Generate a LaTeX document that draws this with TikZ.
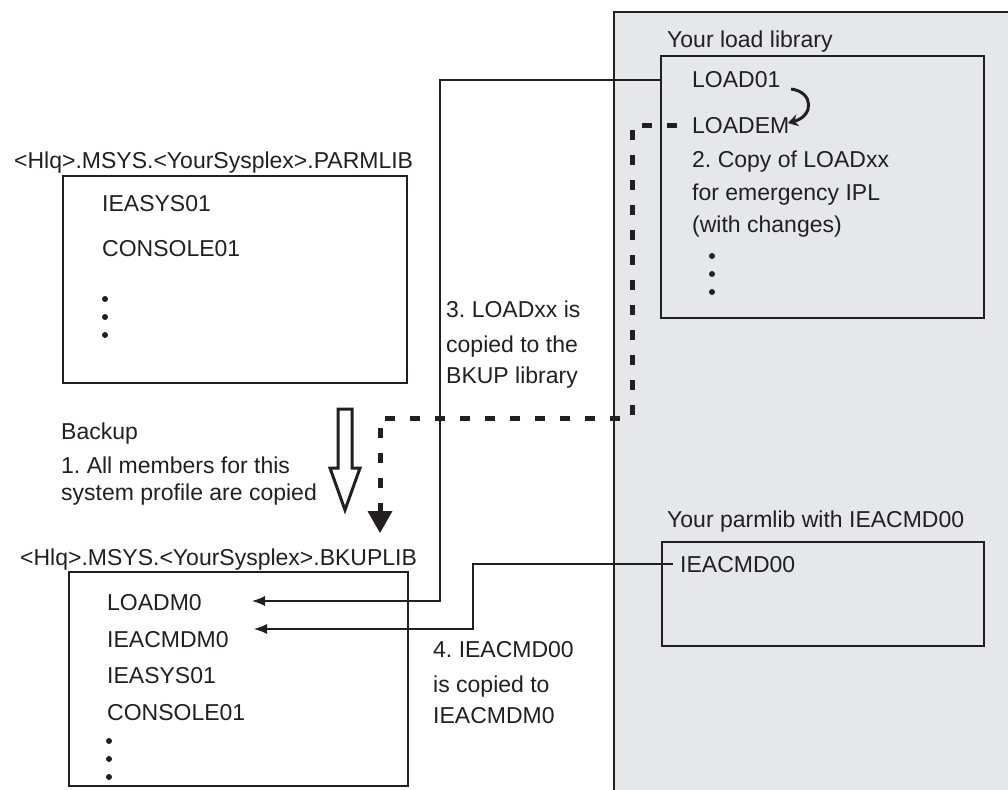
\documentclass[tikz,border=0pt]{standalone}
\usepackage{fontspec}
\setmainfont{Liberation Sans}
\usetikzlibrary{arrows.meta}
\definecolor{panelgray}{HTML}{E6E7E8}
\definecolor{ink}{HTML}{231F20}
\frenchspacing
\begin{document}
\begin{tikzpicture}[x=1pt,y=-1pt,
  txt/.style={anchor=base west,inner sep=0pt,font=\fontsize{23}{28}\selectfont\frenchspacing,text=ink},
  box/.style={draw=ink,line width=1.8pt,rectangle,inner sep=0pt,outer sep=0pt},
  conn/.style={draw=ink,line width=1.3pt},
  tipa/.style={-{Latex[length=13pt,width=10pt]}},
  bigdash/.style={draw=ink,line width=5pt,dash pattern=on 10pt off 15pt},
  dotmark/.style={fill=ink}]

\useasboundingbox (0,0) rectangle (1008,789);

% gray panel
\fill[panelgray] (614,12) rectangle (1014,796);
\draw[ink,line width=2pt] (1014,12) -- (614,12) -- (614,796);

% boxes
\node[box,minimum width=344pt,minimum height=207pt] (parm) at (235,279.5) {};
\node[box,minimum width=339pt,minimum height=214pt] (bk) at (238.5,679) {};
\node[box,minimum width=323pt,minimum height=262pt] (loadbox) at (822.5,187) {};
\node[box,minimum width=322pt,minimum height=104pt] (cmdbox) at (823,594) {};

% load library
\node[txt] (lbl1) at (667,48) {Your load library};
\node[txt] (load01) at (692,88) {LOAD01};
\node[txt] (loadem) at (692,133) {LOADEM};
\node[txt] (c2a) at (692,167) {2. Copy of LOADxx};
\node[txt] (c2b) at (692,200) {for emergency IPL};
\node[txt] (c2c) at (692,232) {(with changes)};
\foreach \y in {256,274,292} \fill[dotmark] (712,\y) circle (3pt);

% parmlib
\node[txt] (lbl2) at (14,168) {<Hlq>.MSYS.<YourSysplex>.PARMLIB};
\node[txt] (p1) at (102,211) {IEASYS01};
\node[txt] (p2) at (102,256) {CONSOLE01};
\foreach \y in {299,317,335} \fill[dotmark] (105,\y) circle (3pt);

% middle labels
\node[txt] (m3a) at (446,317) {3. LOADxx is};
\node[txt] (m3b) at (446,352) {copied to the};
\node[txt] (m3c) at (446,383) {BKUP library};
\node[txt] (b1) at (61,439) {Backup};
\node[txt] (b2) at (61,473) {1. All members for this};
\node[txt] (b3) at (61,500) {system profile are copied};

% backup library
\node[txt] (lbl3) at (20,565) {<Hlq>.MSYS.<YourSysplex>.BKUPLIB};
\node[txt] (loadm0) at (107,610) {LOADM0};
\node[txt] (cmdm0) at (107,647) {IEACMDM0};
\node[txt] (k1t) at (107,683) {IEASYS01};
\node[txt] (k2t) at (107,720) {CONSOLE01};
\foreach \y in {741,759,777} \fill[dotmark] (109,\y) circle (3pt);

\node[txt] (m4a) at (433,657) {4. IEACMD00};
\node[txt] (m4b) at (433,692) {is copied to};
\node[txt] (m4c) at (433,723) {IEACMDM0};

% parmlib with IEACMD00
\node[txt] (lbl4) at (667,527) {Your parmlib with IEACMD00};
\node[txt] (cmd) at (680,572) {IEACMD00};

% connector coordinates
\coordinate (k1) at (440,601);
\coordinate (t1) at (252,601);
\coordinate (k2) at (473,629);
\coordinate (t2) at (254,629);
\coordinate (k3) at (632,418);
\coordinate (t3) at (380,533);
\coordinate (ca) at (791,89);
\coordinate (cb) at (788,123);

% step 3 line: LOAD01 -> LOADM0
\draw[conn,tipa] (loadbox.west |- load01.center) -| (k1) -- (t1);
% step 4 line: IEACMD00 -> IEACMDM0
\draw[conn,tipa,shorten <=7pt] (cmd.west) -| (k2) -- (t2);
% thick dashed line: LOADEM -> BKUPLIB
\draw[bigdash,-{Triangle[length=22pt,width=25pt,line width=0pt]}]
  ([xshift=-15pt]loadem.west) -| (k3) -| (t3);
% curved arrow LOAD01 -> LOADEM
\draw[ink,line width=3pt,-{Stealth[length=10pt,width=12pt]}]
  (ca) .. controls (814,92) and (814,116) .. (cb);

% hollow backup arrow
\draw[ink,line width=3pt,line join=miter,fill=white]
  (338,409) -- (352,409) -- (352,468) -- (360,468) -- (345,510)
  -- (330,468) -- (338,468) -- cycle;
\end{tikzpicture}
\end{document}
